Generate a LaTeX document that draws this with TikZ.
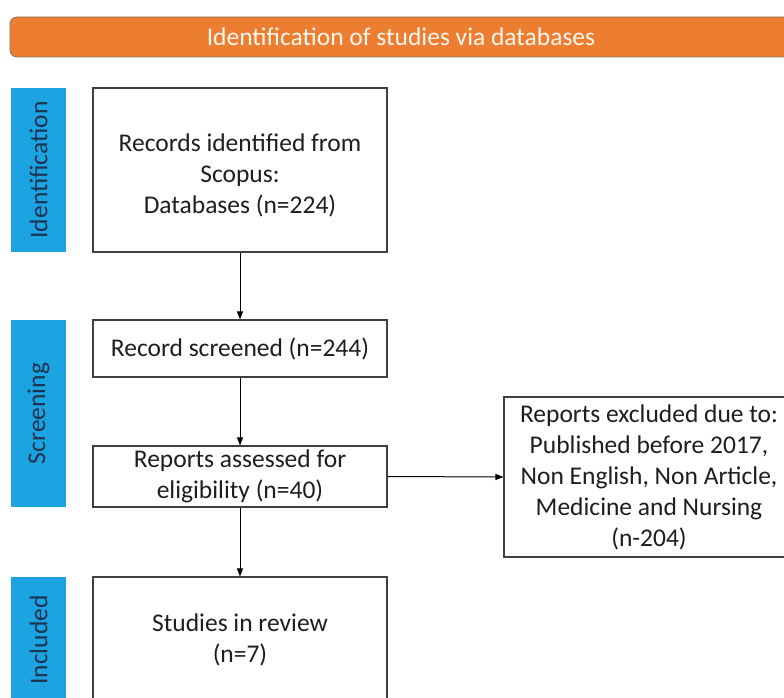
\documentclass[tikz,border=0pt]{standalone}
\usepackage{fontspec}
\setmainfont{Carlito}
\usetikzlibrary{arrows.meta}
\definecolor{bannerorange}{HTML}{ED7D31}
\definecolor{bannerline}{HTML}{8A7565}
\definecolor{stageblue}{HTML}{1BA3E2}
\definecolor{stagetext}{HTML}{1F3350}
\definecolor{boxline}{HTML}{404040}
\definecolor{maintext}{HTML}{1E1E1E}
\begin{document}
\begin{tikzpicture}[x=1pt,y=-1pt,
  banner/.style={draw=bannerline, line width=0.8pt, fill=bannerorange, rounded corners=7pt,
     minimum width=782pt, minimum height=40pt, inner sep=0pt,
     text=white!93!orange, font=\fontsize{25.5}{28}\selectfont},
  stage/.style={fill=stageblue, rotate=90, minimum height=55pt, inner sep=0pt,
     text=stagetext, font=\fontsize{25.5}{28}\selectfont},
  flowbox/.style={draw=boxline, line width=1.1pt, fill=white, minimum width=294pt,
     inner sep=0pt, align=center, text=maintext, font=\fontsize{25.5}{31}\selectfont},
  flowtext/.style={inner sep=0pt, align=center, text=maintext, font=\fontsize{25.5}{31}\selectfont},
  flowarrow/.style={draw=black, line width=1pt, -{Triangle[length=8pt,width=6pt]}}
]
\clip (0,0) rectangle (784,698);
\fill[white] (0,0) rectangle (784,698);

\node[banner] (banner) at (401,37) {Identification of studies via databases};

\node[stage, minimum width=164pt] (sid) at (38.5,170) {Identification};
\node[stage, minimum width=187pt] (sscr) at (38.5,413.5) {Screening};
\node[stage, minimum width=126pt] (sinc) at (38.5,640) {Included};

\node[flowbox, minimum height=164pt] (rec) at (240,170) {};
\node[flowtext] (rectext) at (240,175) {Records identified from\\Scopus:\\Databases (n=224)};
\node[flowbox, minimum height=57pt] (scr) at (240,348.5) {Record screened (n=244)};
\node[flowbox, minimum height=61pt] (ass) at (240,476.5) {Reports assessed for\\eligibility (n=40)};
\node[flowbox, minimum height=160pt, minimum width=290pt] (exc) at (649,477) {Reports excluded due to:\\Published before 2017,\\Non English, Non Article,\\Medicine and Nursing\\(n-204)};
\node[flowbox, minimum height=126pt] (stu) at (240,640) {Studies in review\\(n=7)};

\draw[flowarrow] (rec.south) -- (scr.north);
\draw[flowarrow] (scr.south) -- (ass.north);
\draw[flowarrow] (ass.east) -- (exc.west);
\draw[flowarrow] (ass.south) -- (stu.north);
\end{tikzpicture}
\end{document}
